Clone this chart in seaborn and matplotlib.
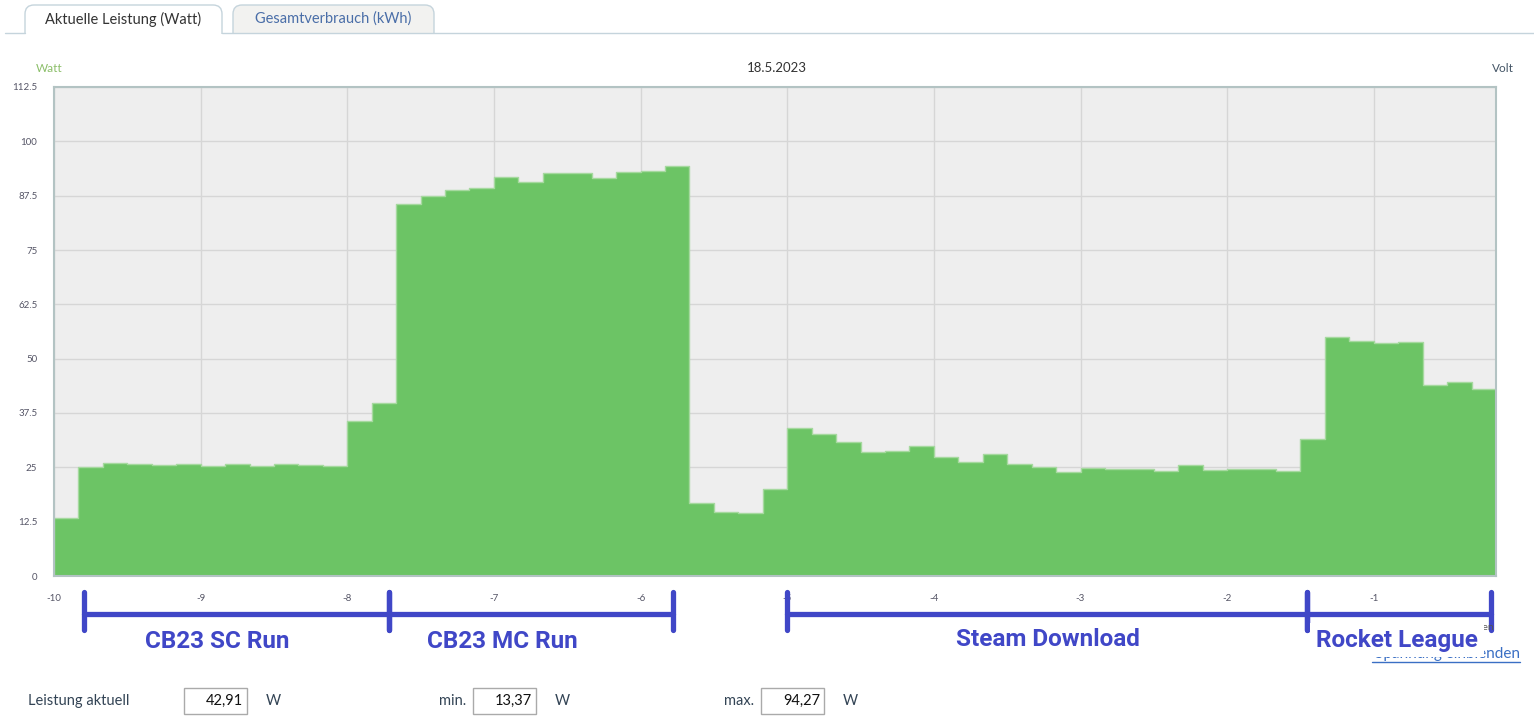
import numpy as np
import pandas as pd
import seaborn as sns
import matplotlib.pyplot as plt
from matplotlib.patches import Rectangle, FancyBboxPatch

# Leistung je 10-Sekunden-Intervall (Watt), letzte 10 Minuten
watts = [13.37, 25.0, 25.9, 25.7, 25.6, 25.7, 25.4, 25.8, 25.3, 25.7, 25.6, 25.4,
         35.6, 39.7, 85.5, 87.5, 88.9, 89.3, 91.9, 90.6, 92.6, 92.8, 91.6, 92.9,
         93.2, 94.27, 16.7, 14.7, 14.6, 20.0, 34.0, 32.7, 30.8, 28.6, 28.8, 30.0,
         27.4, 26.2, 28.1, 25.7, 25.0, 23.9, 24.8, 24.7, 24.6, 24.2, 25.5, 24.5,
         24.6, 24.7, 24.2, 31.5, 54.9, 54.0, 53.7, 53.8, 43.9, 44.7, 42.91]
y_ticks = [0, 12.5, 25, 37.5, 50, 62.5, 75, 87.5, 100, 112.5]
x_ticks = [-10, -9, -8, -7, -6, -5, -4, -3, -2, -1]

# Annotationen (Minuten)
phases = ['CB23 SC Run', 'CB23 MC Run', 'Steam Download', 'Rocket League']
phase_start = [-9.795, -7.715, -5.0, -1.45]
phase_end = [-7.715, -5.78, -1.45, -0.2]

current, w_min, w_max = '42,91', '13,37', '94,27'

W, H = 1534, 722
n = len(watts)
t0, t1 = -10, -10 + n / 6
df = pd.DataFrame({'t': t0 + (np.arange(n) + 0.5) / 6, 'watt': watts})

sns.set_style('whitegrid')
plt.rcParams['font.family'] = ['Lato', 'DejaVu Sans']

fig = plt.figure(figsize=(W / 100, H / 100), dpi=100)
ax = fig.add_axes([54 / W, 1 - 576 / H, (1496 - 54) / W, (576 - 87) / H])
ax.set_facecolor('#eeeeee')

sns.histplot(data=df, x='t', weights='watt', bins=n, binrange=(t0, t1), element='step',
             fill=True, color='#6cc465', alpha=1, edgecolor='#a6d99f', linewidth=1, ax=ax, zorder=2)

ax.set_xlim(t0, t1)
ax.set_ylim(0, 112.5)
ax.set_yticks(y_ticks)
ax.set_yticklabels([f'{v:g}' for v in y_ticks])
ax.set_xticks(x_ticks)
ax.set_xticklabels([str(v) for v in x_ticks])
ax.set_xlabel('')
ax.set_ylabel('')
ax.grid(True, color='#d6d6d6', linewidth=1)
ax.set_axisbelow(True)
for s in ax.spines.values():
    s.set_color('#b3c3c3')
    s.set_linewidth(1.5)
ax.tick_params(axis='y', length=4, width=1.2, color='#b3c3c3', labelsize=7,
               labelcolor='#555566', pad=8)
ax.tick_params(axis='x', length=10, width=1.2, color='#b3c3c3', labelsize=7,
               labelcolor='#555566', pad=3)

# Overlay in Pixelkoordinaten fuer Reiter, Klammern und Werte
ov = fig.add_axes([0, 0, 1, 1], zorder=5)
ov.set_xlim(0, W)
ov.set_ylim(H, 0)
ov.axis('off')
ov.patch.set_alpha(0)

line_c = '#c5d4dc'
ov.add_patch(FancyBboxPatch((233, 5), 201, 40, boxstyle='round,pad=0,rounding_size=9',
                            facecolor='#f2f2f0', edgecolor=line_c, lw=1))
ov.add_patch(FancyBboxPatch((25, 5), 197, 40, boxstyle='round,pad=0,rounding_size=9',
                            facecolor='white', edgecolor=line_c, lw=1))
ov.add_patch(Rectangle((0, 33.5), W, 14, facecolor='white', edgecolor='none'))
ov.plot([5, 25], [33, 33], color=line_c, lw=1)
ov.plot([222, W], [33, 33], color=line_c, lw=1)
ov.text(123, 19, 'Aktuelle Leistung (Watt)', ha='center', va='center', fontsize=10.5, color='#333333')
ov.text(333, 19, 'Gesamtverbrauch (kWh)', ha='center', va='center', fontsize=10.5, color='#4a6ea8')

ov.text(36, 68, 'Watt', ha='left', va='center', fontsize=8.5, color='#8cbf6a')
ov.text(777, 68, '18.5.2023', ha='center', va='center', fontsize=9.5, color='#333333')
ov.text(1514, 68, 'Volt', ha='right', va='center', fontsize=8.5, color='#445566')

# verdeckte Beschriftungen rechts unten
ov.text(1494, 628, 'Minuten', ha='right', va='center', fontsize=7.5, color='#555555')
ov.text(1520, 654, 'Spannung einblenden', ha='right', va='center', fontsize=11, color='#3a6fc4')
ov.plot([1372, 1520], [662, 662], color='#3a6fc4', lw=1)

# Phasen-Klammern
blue = '#4047c7'
label_x = [217, 502, 1048, 1397]
label_y = [641, 641, 639, 640]
for name, a, b, lx, ly in zip(phases, phase_start, phase_end, label_x, label_y):
    xa = 54 + (a + 10) * 146.6
    xb = 54 + (b + 10) * 146.6
    ov.plot([xa, xb], [614, 614], color=blue, lw=3.8)
    for xx in (xa, xb):
        ov.plot([xx, xx], [592, 630], color=blue, lw=3.8, solid_capstyle='round')
    bbox = dict(facecolor='white', edgecolor='none', pad=4) if name == 'Rocket League' else None
    ov.text(lx, ly, name, ha='center', va='center', fontsize=17.5,
            fontweight='bold', color=blue, bbox=bbox, family=['Roboto', 'DejaVu Sans'])

# Werte unten
lab = dict(va='center', fontsize=10.5, color='#334455')
ov.text(28, 701, 'Leistung aktuell', ha='left', **lab)
ov.text(466, 701, 'min.', ha='right', **lab)
ov.text(754, 701, 'max.', ha='right', **lab)
for x0, val in zip([184, 473, 761], [current, w_min, w_max]):
    ov.add_patch(Rectangle((x0, 688), 63, 26, facecolor='white', edgecolor='#aaaaaa', lw=1))
    ov.text(x0 + 59, 701, val, ha='right', va='center', fontsize=10.5, color='#111111')
    ov.text(x0 + 82, 701, 'W', ha='left', **lab)

fig.savefig('out.png', dpi=100)
